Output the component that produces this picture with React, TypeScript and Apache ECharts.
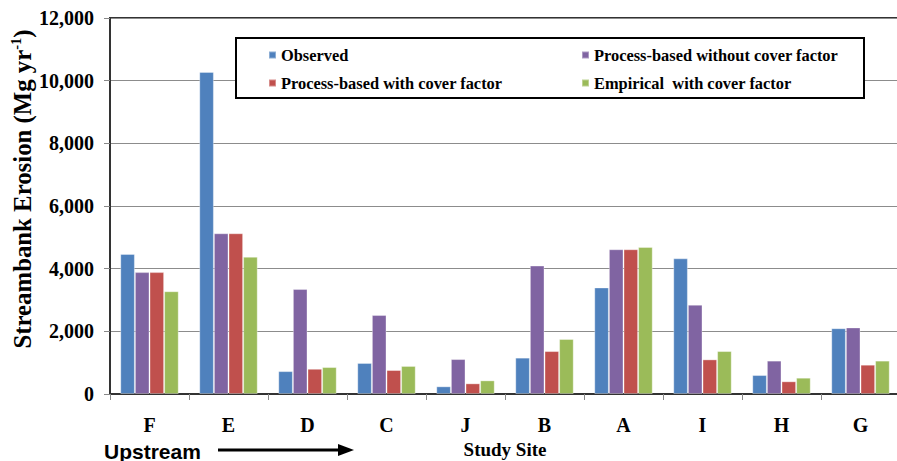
import React, { useEffect, useRef } from "react";
import * as echarts from "echarts";

const sites = ["F", "E", "D", "C", "J", "B", "A", "I", "H", "G"];
const observed = [4470, 10280, 730, 990, 245, 1160, 3400, 4330, 605, 2100];
const processWithout = [3890, 5130, 3350, 2520, 1115, 4100, 4620, 2850, 1065, 2125];
const processWith = [3890, 5130, 805, 765, 340, 1370, 4620, 1105, 405, 935];
const empirical = [3280, 4380, 860, 895, 435, 1755, 4690, 1370, 520, 1065];
const seriesNames = [
  "Observed",
  "Process-based without cover factor",
  "Process-based with cover factor",
  "Empirical  with cover factor",
];
const colors = ["#4F81BD", "#8064A2", "#C0504D", "#9BBB59"];

const SERIF = "Liberation Serif";
const SANS = "Liberation Sans";

export default function App() {
  const ref = useRef<HTMLDivElement>(null);
  useEffect(() => {
    if (!ref.current) return;
    const chart = echarts.init(ref.current, null, { renderer: "svg" });
    const values = [observed, processWithout, processWith, empirical];
    const legendPos = [
      { left: 268, top: 47 },
      { left: 581, top: 47 },
      { left: 268, top: 75 },
      { left: 581, top: 75 },
    ];
    const legendText = {
      fontFamily: SERIF,
      fontWeight: "bold",
      fontSize: 16.4,
      color: "#000",
    };
    chart.setOption({
      animation: false,
      backgroundColor: "#ffffff",
      textStyle: { fontFamily: SERIF },
      grid: {
        left: 110,
        top: 18,
        width: 790,
        height: 376,
        show: true,
        borderColor: "#333333",
        borderWidth: 2,
        containLabel: false,
        outerBoundsMode: "none",
      },
      legend: seriesNames.map((n, i) => ({
        data: [{ name: n, textStyle: legendText }],
        left: legendPos[i].left,
        top: legendPos[i].top,
        padding: 0,
        itemWidth: 7,
        itemHeight: 7,
        itemGap: 5,
        icon: "rect",
        z: 20,
        selectedMode: false,
        textStyle: legendText,
      })),
      xAxis: {
        type: "category",
        data: sites,
        name: "Study Site",
        nameLocation: "middle",
        nameGap: 46,
        nameTextStyle: {
          fontFamily: SERIF,
          fontWeight: "bold",
          fontSize: 19,
          color: "#000",
        },
        axisLine: { lineStyle: { color: "#333333", width: 2 } },
        axisTick: { show: true, length: 6, lineStyle: { color: "#888888" } },
        axisLabel: {
          margin: 21,
          fontFamily: SERIF,
          fontWeight: "bold",
          fontSize: 20,
          color: "#000",
        },
      },
      yAxis: {
        type: "value",
        min: 0,
        max: 12000,
        interval: 2000,
        axisLine: { show: true, lineStyle: { color: "#333333", width: 2 } },
        axisTick: { show: true, length: 6, lineStyle: { color: "#888888" } },
        splitLine: { lineStyle: { color: "#8c8c8c", width: 1.2 } },
        axisLabel: {
          margin: 16,
          fontFamily: SERIF,
          fontWeight: "bold",
          fontSize: 20,
          color: "#000",
          formatter: (v: number) => v.toLocaleString("en-US"),
        },
      },
      graphic: [
        {
          type: "rect",
          z: 10,
          shape: { x: 236, y: 38, width: 628, height: 60 },
          style: { fill: "#fff", stroke: "#000", lineWidth: 2 },
        },
        {
          type: "text",
          z: 10,
          x: 22,
          y: 189,
          rotation: Math.PI / 2,
          style: {
            text: "{a|Streambank Erosion (Mg yr}{s|-1}{a|)}",
            align: "center",
            verticalAlign: "middle",
            rich: {
              a: {
                fontFamily: SERIF,
                fontWeight: "bold",
                fontSize: 24.8,
                lineHeight: 27,
                fill: "#000",
              },
              s: {
                fontFamily: SERIF,
                fontWeight: "bold",
                fontSize: 14.5,
                verticalAlign: "top",
                fill: "#000",
              },
            },
          },
        },
        {
          type: "text",
          z: 10,
          x: 104,
          y: 451,
          style: {
            text: "Upstream",
            fontFamily: SANS,
            fontWeight: "bold",
            fontSize: 21,
            fill: "#000",
            verticalAlign: "middle",
          },
        },
        {
          type: "line",
          z: 10,
          shape: { x1: 218, y1: 450, x2: 340, y2: 450 },
          style: { stroke: "#000", lineWidth: 3 },
        },
        {
          type: "polygon",
          z: 10,
          shape: { points: [[338, 444], [354, 450], [338, 456]] },
          style: { fill: "#000" },
        },
      ],
      series: seriesNames.map((n, i) => ({
        name: n,
        type: "bar",
        data: values[i],
        barGap: "0%",
        barCategoryGap: "26%",
        itemStyle: {
          color: colors[i],
          borderColor: "rgba(255,255,255,0.35)",
          borderWidth: 1,
        },
      })),
    });
    return () => chart.dispose();
  }, []);
  return <div ref={ref} style={{ width: 897, height: 461, position: "absolute", left: 0, top: 0 }} />;
}
